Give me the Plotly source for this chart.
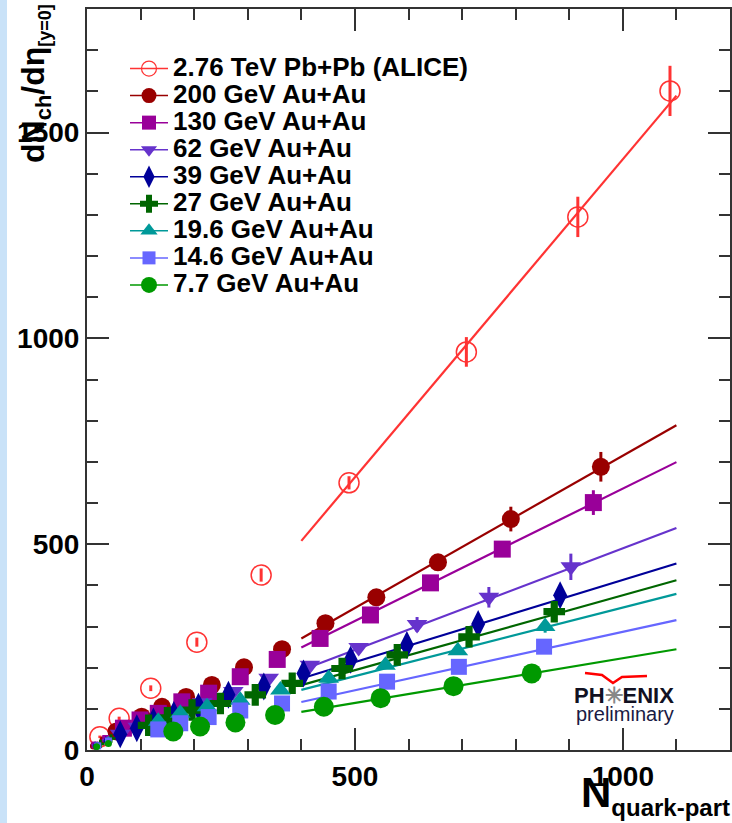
import numpy as np
import plotly.graph_objects as go

# ---------------- data ----------------
series_names = [
    "2.76 TeV Pb+Pb (ALICE)", "200 GeV Au+Au", "130 GeV Au+Au", "62 GeV Au+Au",
    "39 GeV Au+Au", "27 GeV Au+Au", "19.6 GeV Au+Au", "14.6 GeV Au+Au", "7.7 GeV Au+Au",
]

alice_x = [1088, 916, 708, 489, 325, 205, 119, 60, 24]
alice_y = [1601, 1295, 967, 649, 425, 262, 150, 77, 32]
alice_err = [61, 49, 36, 16, 16, 11, 7, 4, 3]

au200_x = [959, 791, 655, 540, 445, 364, 293, 233, 185, 140, 102, 55, 30, 12]
au200_y = [688, 561, 456, 371, 308, 245, 201, 158, 129, 105, 81, 45, 25, 10]
au200_err = [36, 30, 12, 10, 8, 6, 5, 4, 3, 3, 2, 2, 1, 1]

au130_x = [945, 775, 641, 529, 435, 355, 286, 227, 177, 133, 99, 68, 35, 15]
au130_y = [601, 488, 406, 328, 271, 220, 178, 138, 117, 89, 73, 53, 28, 12]
au130_err = [30, 12, 10, 8, 6, 5, 4, 4, 3, 3, 2, 2, 1, 1]

au62_x = [903, 750, 616, 507, 416, 339, 273, 215, 168, 128, 95, 62, 35, 15]
au62_y = [445, 371, 305, 249, 206, 174, 142, 115, 92, 72, 55, 38, 22, 10]
au62_err = [32, 25, 18, 10, 8, 6, 5, 4, 3, 3, 2, 2, 1, 1]

au39_x = [883, 730, 597, 492, 404, 330, 264, 208, 162, 124, 93, 62, 35, 15]
au39_y = [376, 306, 255, 219, 186, 154, 134, 105, 85, 69, 53, 38, 22, 10]
au39_err = [15, 12, 8, 6, 5, 4, 4, 3, 3, 2, 2, 1, 1, 1]

au27_x = [872, 713, 579, 476, 383, 314, 249, 196, 150, 115, 45, 25]
au27_y = [336, 275, 231, 198, 162, 134, 113, 97, 78, 60, 28, 15]
au27_err = [12, 10, 8, 6, 5, 4, 3, 3, 2, 2, 1, 1]

au19_x = [855, 692, 557, 451, 361, 286, 224, 174, 133, 40, 20]
au19_y = [300, 241, 206, 174, 146, 121, 105, 89, 70, 26, 12]
au19_err = [15, 10, 8, 6, 5, 4, 3, 3, 2, 1, 1]

au14_x = [853, 694, 560, 451, 364, 286, 227, 174, 133, 40, 20]
au14_y = [251, 202, 166, 142, 113, 96, 80, 65, 50, 22, 10]
au14_err = [8, 6, 5, 4, 4, 3, 3, 2, 2, 1, 1]

au7_x = [830, 684, 548, 442, 351, 277, 211, 161, 40, 18]
au7_y = [186, 155, 126, 105, 85, 67, 57, 45, 16, 8]
au7_err = [5, 5, 4, 4, 3, 3, 2, 2, 1, 1]

# linear fits dN/deta = slope * N + intercept, drawn over fit range
fit_slope = [1.545, 0.740, 0.643, 0.494, 0.399, 0.364, 0.333, 0.284, 0.217]
fit_intercept = [-110, -25, -8, -4, 14, 12, 13, 3, 6]
fit_range = [400, 1100]

x_ticks = [0, 500, 1000]
y_ticks = [0, 500, 1000, 1500]

# ---------------- styles ----------------
colors = ["#ff3333", "#990000", "#990099", "#6633cc", "#000099",
          "#006600", "#009999", "#6666ff", "#009900"]
symbols = ["circle-open", "circle", "square", "triangle-down", "diamond-tall",
           "cross", "triangle-up", "square", "circle"]
sizes = [20, 18, 17, 18, 20, 18, 18, 16, 20]
small_size = 7          # very peripheral points are drawn with small markers
small_limit = 50
legend_sizes = [15, 15, 14, 14, 16, 15, 15, 13, 16]

data_x = [alice_x, au200_x, au130_x, au62_x, au39_x, au27_x, au19_x, au14_x, au7_x]
data_y = [alice_y, au200_y, au130_y, au62_y, au39_y, au27_y, au19_y, au14_y, au7_y]
data_e = [alice_err, au200_err, au130_err, au62_err, au39_err, au27_err, au19_err, au14_err, au7_err]

FONT = "Liberation Sans, Arial, sans-serif"

fig = go.Figure()

# fit lines
for i in range(len(series_names)):
    xs = np.linspace(fit_range[0], fit_range[1], 2)
    ys = fit_slope[i] * xs + fit_intercept[i]
    fig.add_trace(go.Scatter(x=xs, y=ys, mode="lines",
                             line=dict(color=colors[i], width=2.2),
                             showlegend=False, hoverinfo="skip"))

# data points
for i in range(len(series_names)):
    open_marker = symbols[i].endswith("open")
    xarr = np.array(data_x[i])
    if open_marker:
        msize = sizes[i]
    else:
        msize = np.where(xarr < small_limit, small_size, sizes[i]).tolist()
    fig.add_trace(go.Scatter(
        x=data_x[i], y=data_y[i], mode="markers",
        marker=dict(symbol=symbols[i], size=msize, color=colors[i], opacity=1,
                    line=dict(width=1.5 if open_marker else 0, color=colors[i])),
        error_y=dict(type="data", array=data_e[i], color=colors[i],
                     thickness=3, width=0),
        showlegend=False, name=series_names[i]))

# legend entries
for i in range(len(series_names)):
    open_marker = symbols[i].endswith("open")
    fig.add_trace(go.Scatter(
        x=[None], y=[None], mode="lines+markers",
        name='<span style="font-size:26px">' + series_names[i] + "</span>",
        line=dict(color=colors[i], width=1.5),
        marker=dict(symbol=symbols[i], size=legend_sizes[i], color=colors[i], opacity=1,
                    line=dict(width=1.2 if open_marker else 0, color=colors[i]))))

W, H = 732, 823
L, R, T, B = 87, 2, 9, 73
pw, ph = W - L - R, H - T - B


def px2paper(px, py):
    return (px - L) / pw, (H - B - py) / ph


axis_common = dict(
    showline=True, linecolor="#333333", linewidth=2, mirror="allticks",
    ticks="inside", ticklen=22, tickwidth=1.5, tickcolor="#333333",
    showgrid=False, zeroline=False, automargin=False,
    tickfont=dict(family=FONT, size=28, color="black", weight="bold"),
    minor=dict(ticks="inside", ticklen=11, tickwidth=1.5, tickcolor="#333333", dtick=100),
)

fig.update_layout(
    width=W, height=H,
    margin=dict(l=L, r=R, t=T, b=B, autoexpand=False),
    paper_bgcolor="white", plot_bgcolor="white",
    xaxis=dict(range=[0, 1200], tickmode="array", tickvals=x_ticks,
               ticktext=[str(v) for v in x_ticks], **axis_common),
    yaxis=dict(range=[0, 1800], tickmode="array", tickvals=y_ticks,
               ticktext=[str(v) for v in y_ticks], ticklabelstandoff=0, **axis_common),
    legend=dict(x=px2paper(125, 0)[0], y=px2paper(0, 50)[1], xanchor="left", yanchor="top",
                bgcolor="rgba(0,0,0,0)", borderwidth=0,
                font=dict(family=FONT, size=18.5, color="black", weight="bold"),
                itemwidth=38),
    showlegend=True,
)

# left light-blue slide strip
x0, _ = px2paper(0, 0)
x1, _ = px2paper(7, 0)
_, y0 = px2paper(0, H)
_, y1 = px2paper(0, 0)
fig.add_shape(type="rect", xref="paper", yref="paper", x0=x0, x1=x1, y0=y0, y1=y1,
              fillcolor="#c9e2f8", line=dict(width=0), layer="below")

# axis titles
ax, ay = px2paper(36, 84)
fig.add_annotation(
    xref="paper", yref="paper", x=ax, y=ay, xanchor="center", yanchor="middle",
    textangle=-90, showarrow=False,
    text='dN<sub><span style="font-size:22px">ch</span></sub>/dη'
         '<sub><span style="font-size:18px">[y=0]</span></sub>',
    font=dict(family=FONT, size=32, color="black", weight="bold"))

bx, by = px2paper(732, 823)
fig.add_annotation(
    xref="paper", yref="paper", x=bx, y=by, xanchor="right", yanchor="bottom",
    showarrow=False,
    text='N<sub><span style="font-size:24px">quark-part</span></sub>',
    font=dict(family=FONT, size=42, color="black", weight="bold"))

# PHENIX preliminary logo
lx, ly = px2paper(624, 695)
fig.add_annotation(xref="paper", yref="paper", x=lx, y=ly, showarrow=False,
                   xanchor="center", yanchor="middle",
                   text='PH<span style="color:#888888">✳</span>ENIX',
                   font=dict(family=FONT, size=22, color="#111122", weight="bold"))
lx, ly = px2paper(625, 714)
fig.add_annotation(xref="paper", yref="paper", x=lx, y=ly, showarrow=False,
                   xanchor="center", yanchor="middle", text="preliminary",
                   font=dict(family=FONT, size=20, color="#1a1a44"))
pts = [(585, 673), (602, 675), (613, 683), (622, 677), (647, 676)]
pp = [px2paper(a, b) for a, b in pts]
path = "M {:.4f},{:.4f} ".format(*pp[0]) + " ".join("L {:.4f},{:.4f}".format(*p) for p in pp[1:])
fig.add_shape(type="path", xref="paper", yref="paper", path=path,
              line=dict(color="#ff0000", width=2.5))

fig.write_html("out.html", config={"displayModeBar": False},
               post_script="document.body.style.margin='0';document.body.style.padding='0';")
